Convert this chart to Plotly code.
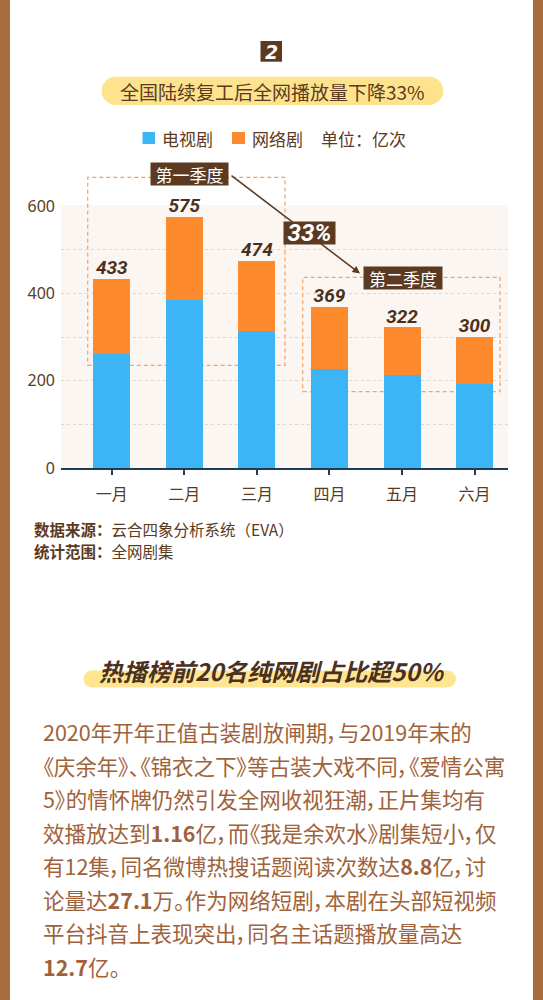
import plotly.graph_objects as go

# ---------------- data ----------------
months = ["一月", "二月", "三月", "四月", "五月", "六月"]
tv_values = [260, 384, 314, 227, 214, 192]      # 电视剧
web_values = [173, 191, 160, 142, 108, 108]     # 网络剧
y_tick_values = [0, 200, 400, 600]
series_names = ["电视剧", "网络剧"]

totals = [a + b for a, b in zip(tv_values, web_values)]

# ---------------- styles ----------------
W, H = 543, 1000
L, R, T, B = 61, 508, 205, 468          # plot area in pixels
PW, PH = R - L, B - T
BLUE = "#3bb5f6"
ORANGE = "#fd8a2d"
DARK = "#5b3a21"
TEXT_BROWN = "#a0623a"
CJK = "Noto Sans CJK SC"


def px(x):
    return (x - L) / PW


def py(y):
    return (B - y) / PH


fig = go.Figure()
fig.add_trace(go.Bar(x=months, y=tv_values, name=series_names[0],
                     marker=dict(color=BLUE, line=dict(width=0)), width=0.51,
                     showlegend=False))
fig.add_trace(go.Bar(x=months, y=web_values, name=series_names[1],
                     marker=dict(color=ORANGE, line=dict(width=0)), width=0.51,
                     showlegend=False))
fig.add_trace(go.Scatter(x=months, y=totals, mode="text",
                         text=[str(t) for t in totals], textposition="top center",
                         textfont=dict(family="Roboto", size=19, color="#4a3020",
                                       weight="bold", style="italic"),
                         cliponaxis=False, showlegend=False, hoverinfo="skip"))

shapes = []
# brown side borders
shapes.append(dict(type="rect", xref="paper", yref="paper", x0=px(0), x1=px(10), y0=py(1000), y1=py(0),
                   fillcolor="#a86c3e", line=dict(width=0), layer="below"))
shapes.append(dict(type="rect", xref="paper", yref="paper", x0=px(533), x1=px(543), y0=py(1000), y1=py(0),
                   fillcolor="#a86c3e", line=dict(width=0), layer="below"))


def pill(x0, y0, x1, y1, color):
    r = (y1 - y0) / 2
    out = [dict(type="rect", xref="paper", yref="paper", x0=px(x0 + r), x1=px(x1 - r), y0=py(y1), y1=py(y0),
                fillcolor=color, line=dict(width=0), layer="below"),
           dict(type="circle", xref="paper", yref="paper", x0=px(x0), x1=px(x0 + 2 * r), y0=py(y1), y1=py(y0),
                fillcolor=color, line=dict(width=0), layer="below"),
           dict(type="circle", xref="paper", yref="paper", x0=px(x1 - 2 * r), x1=px(x1), y0=py(y1), y1=py(y0),
                fillcolor=color, line=dict(width=0), layer="below")]
    return out


shapes += pill(101.7, 76.7, 443.3, 105, "#fde38e")
shapes += pill(83.5, 670.5, 456, 687.5, "#fde592")

# badge "2"
shapes.append(dict(type="rect", xref="paper", yref="paper", x0=px(260.5), x1=px(282), y0=py(61.7), y1=py(41),
                   fillcolor=DARK, line=dict(width=0), layer="above"))

# legend squares
shapes.append(dict(type="rect", xref="paper", yref="paper", x0=px(142.5), x1=px(155), y0=py(144), y1=py(132),
                   fillcolor=BLUE, line=dict(width=0)))
shapes.append(dict(type="rect", xref="paper", yref="paper", x0=px(232), x1=px(245), y0=py(144), y1=py(132),
                   fillcolor=ORANGE, line=dict(width=0)))

# dashed quarter boxes
for (x0, y0, x1, y1) in [(87.7, 177.3, 285, 365.3), (302.7, 277.3, 500, 391.7)]:
    shapes.append(dict(type="rect", xref="paper", yref="paper", x0=px(x0), x1=px(x1), y0=py(y1), y1=py(y0),
                       line=dict(color="#f9a05a", width=1.2, dash="4px,3px"), fillcolor="rgba(0,0,0,0)",
                       layer="below"))

annotations = []


def note(text, x, y, size, color=DARK, xanchor="center", family=CJK, **kw):
    d = dict(text=text, x=px(x), y=py(y), xref="paper", yref="paper", showarrow=False,
             xanchor=xanchor, yanchor="middle", font=dict(family=family, size=size, color=color))
    if xanchor == "left":
        d["align"] = "left"
    d.update(kw)
    annotations.append(d)
    return len(annotations) - 1


# badge text
note("<b><i>2</i></b>", 271.2, 51.5, 19, color="white", family="DejaVu Sans")
# title
note("全国陆续复工后全网播放量下降33%", 272.5, 91, 19)
# legend
note("电视剧", 159.5, 138, 17, xanchor="left")
note("网络剧", 250, 138, 17, xanchor="left")
note("单位：亿次", 318.5, 138, 17, xanchor="left")

# arrow between quarter labels
annotations.append(dict(text="", x=px(360), y=py(273.5), xref="paper", yref="paper", showarrow=True,
                        ax=-130, ay=-99, arrowhead=2, arrowsize=1, arrowwidth=1.5, arrowcolor=DARK,
                        standoff=0, startstandoff=0))
note("第一季度", 189.3, 174.2, 17, color="white", bgcolor=DARK, width=77, height=22, borderpad=0)
note("第二季度", 402.5, 278, 17, color="white", bgcolor=DARK, width=78, height=22, borderpad=0)
note("<b><i>33%</i></b>", 309.5, 233, 24, color="white", bgcolor=DARK, width=51, height=22, borderpad=0,
     family="Roboto")

# source
note("<b>数据来源：</b>云合四象分析系统（EVA）", 31.5, 528.5, 15.5, xanchor="left")
note("<b>统计范围：</b>全网剧集", 31.5, 551, 15.5, xanchor="left")

# second heading
note("<b><i>热播榜前20名纯网剧占比超50%</i></b>", 272, 670, 24, color="#4a3020")

# paragraph
para_lines = [
    "2020年开年正值古装剧放闸期，与2019年末的",
    "《庆余年》、《锦衣之下》等古装大戏不同，《爱情公寓",
    "5》的情怀牌仍然引发全网收视狂潮，正片集均有",
    "效播放达到<b>1.16</b>亿，而《我是余欢水》剧集短小，仅",
    "有12集，同名微博热搜话题阅读次数达<b>8.8</b>亿，讨",
    "论量达<b>27.1</b>万。作为网络短剧，本剧在头部短视频",
    "平台抖音上表现突出，同名主话题播放量高达",
    "<b>12.7</b>亿。",
]
para_idx = []
for i, line in enumerate(para_lines):
    para_idx.append(note(line, 40.5, 731.5 + 33.5 * i, 21.5, color=TEXT_BROWN, xanchor="left"))

fig.update_layout(
    width=W, height=H,
    margin=dict(l=L, r=W - R, t=T, b=H - B, pad=0),
    paper_bgcolor="white",
    plot_bgcolor="#fbf6f2",
    barmode="stack",
    bargap=0.49,
    shapes=shapes,
    annotations=annotations,
    font=dict(family=CJK, color=DARK),
    xaxis=dict(type="category", range=[-0.700, 5.461], showline=True, linecolor="#1f3c55", linewidth=1.5,
               ticks="outside", ticklen=5, tickwidth=1.5, tickcolor="#1f3c55",
               tickfont=dict(family=CJK, size=16, color=DARK), showgrid=False, ticklabelstandoff=6,
               fixedrange=True),
    yaxis=dict(range=[0, 602.3], tickvals=y_tick_values, showline=False, zeroline=False,
               showgrid=True, gridcolor="#dcd6d2", griddash="dot", gridwidth=1,
               minor=dict(dtick=100, tick0=0, showgrid=True, gridcolor="#dcd6d2", griddash="dot", gridwidth=1),
               tickfont=dict(family="Noto Sans", size=16, color=DARK), ticklabelstandoff=5,
               fixedrange=True),
    showlegend=False,
)

# page reset + proportional CJK punctuation for the paragraph lines
css = ",".join('g.annotation[data-index="%d"] text' % i for i in para_idx)
post = (
    "document.body.style.margin='0';document.body.style.padding='0';"
    "var st=document.createElement('style');"
    "st.textContent='" + css + "{font-feature-settings:\"palt\" 1;}';"
    "document.head.appendChild(st);"
)
fig.write_html("out.html", post_script=post, config={"displayModeBar": False})
